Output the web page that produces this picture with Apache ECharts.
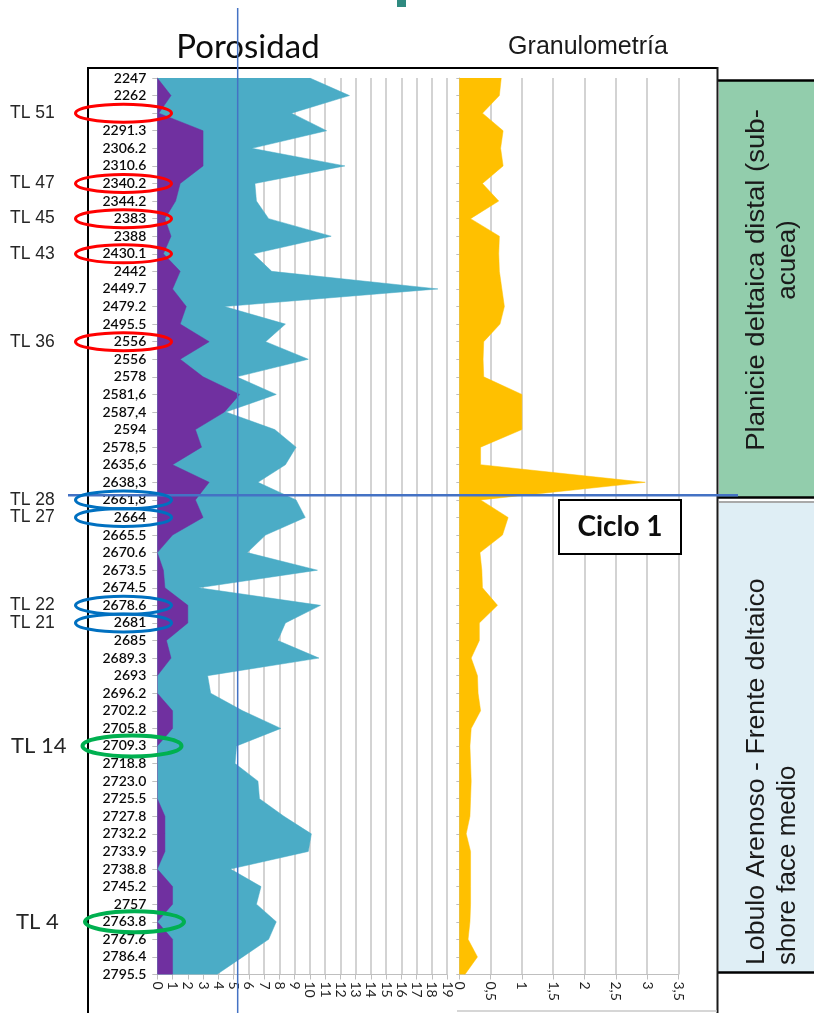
<!DOCTYPE html>
<html>
<head>
<meta charset="utf-8">
<script src="https://cdn.jsdelivr.net/npm/echarts@6/dist/echarts.min.js"></script>
<style>
  html, body { margin: 0; padding: 0; background: #ffffff; }
  #chart { width: 814px; height: 1013px; }
</style>
</head>
<body>
<div id="chart"></div>
<script>
// Sample depths, top to bottom
const depthLabels = [
  '2247', '2262', '', '2291.3', '2306.2', '2310.6', '2340.2', '2344.2', '2383', '2388',
  '2430.1', '2442', '2449.7', '2479.2', '2495.5', '2556', '2556', '2578', '2581,6', '2587,4',
  '2594', '2578,5', '2635,6', '2638,3', '2661,8', '2664', '2665.5', '2670.6', '2673.5', '2674.5',
  '2678.6', '2681', '2685', '2689.3', '2693', '2696.2', '2702.2', '2705.8', '2709.3', '2718.8',
  '2723.0', '2725.5', '2727.8', '2732.2', '2733.9', '2738.8', '2745.2', '2757', '2763.8', '2767.6',
  '2786.4', '2795.5'
];

// Porosity (%)
const porosityValues = [
  10.0, 12.6, 8.8, 11.1, 6.2, 12.3, 6.4, 6.5, 7.3, 11.4,
  6.3, 7.5, 18.4, 4.4, 8.4, 7.1, 9.9, 5.2, 7.8, 4.5,
  7.7, 9.1, 8.4, 6.6, 9.1, 9.7, 7.1, 5.9, 10.5, 2.7,
  10.7, 8.4, 7.9, 10.6, 3.3, 3.5, 5.6, 8.1, 5.2, 5.1,
  6.6, 6.7, 8.3, 10.1, 9.9, 4.8, 6.8, 6.5, 7.8, 7.3,
  5.6, 3.9
];

// Inner (purple) porosity band
const innerValues = [
  0, 0.9, 0.1, 3.0, 3.0, 3.0, 1.5, 1.2, 0.5, 0.9,
  0.4, 1.5, 1.0, 1.9, 1.5, 3.4, 1.5, 3.0, 5.4, 4.4,
  2.5, 2.9, 1.0, 3.4, 2.5, 3.0, 1.0, 0, 0.4, 0.5,
  2.0, 2.0, 0.6, 0.9, 0, 0, 1.0, 1.0, 0, 0,
  0, 0, 0.5, 0.5, 0.5, 0, 1.0, 1.0, 0, 1.0,
  1.0, 1.0
];

// Grain size
const grainValues = [
  0.67, 0.64, 0.37, 0.70, 0.66, 0.70, 0.37, 0.63, 0.18, 0.64,
  0.63, 0.64, 0.68, 0.72, 0.65, 0.39, 0.38, 0.39, 1.0, 1.0,
  1.0, 0.34, 0.34, 2.97, 0.34, 0.78, 0.69, 0.33, 0.36, 0.37,
  0.61, 0.32, 0.32, 0.19, 0.29, 0.30, 0.34, 0.19, 0.17, 0.18,
  0.19, 0.18, 0.17, 0.11, 0.18, 0.18, 0.18, 0.18, 0.17, 0.14,
  0.29, 0.09
];

// Axis ranges
const porosityRange = [0, 19];
const porosityStep = 1;
const grainRange = [0, 3.5];
const grainStep = 0.5;

// Porosity cut-off line
const porosityCutoff = 5.27;

// Labelled samples (row index into depthLabels)
const redSamples = [['TL 51', 2], ['TL 47', 6], ['TL 45', 8], ['TL 43', 10], ['TL 36', 15]];
const blueSamples = [['TL 28', 24], ['TL 27', 25], ['TL 22', 30], ['TL 21', 31]];
const greenSamples = [['TL 14', 38], ['TL 4', 48]];
// Boundary between the two facies (between rows 23 and 24)
const cycleBoundary = [23, 24, 0.73];

const facies = {
  upper: ['Planicie deltaica distal (sub-', 'acuea)'],
  lower: ['Lobulo Arenoso - Frente deltaico', 'shore face medio']
};

const AXIS_GRAY = '#bfbfbf';
const GRID_GRAY = '#c4c4c4';

const chart = echarts.init(document.getElementById('chart'), null, { renderer: 'canvas' });

const catAxisCommon = {
  type: 'category',
  data: depthLabels,
  inverse: true,
  boundaryGap: false,
  axisLine: { show: true, lineStyle: { color: AXIS_GRAY, width: 1 } },
  axisTick: { show: true, interval: 0, length: 5, lineStyle: { color: AXIS_GRAY } },
  splitLine: { show: false }
};

const option = {
  animation: false,
  backgroundColor: '#ffffff',
  grid: [
    { left: 157.3, top: 78, width: 289.8, height: 896.5, containLabel: false, outerBoundsMode: 'none' },
    { left: 459.3, top: 78, width: 219.1, height: 896.5, containLabel: false, outerBoundsMode: 'none' }
  ],
  xAxis: [
    {
      type: 'value', gridIndex: 0, position: 'bottom',
      min: porosityRange[0], max: porosityRange[1], interval: porosityStep,
      axisLine: { show: true, lineStyle: { color: AXIS_GRAY, width: 1 } },
      axisTick: { show: true, length: 5, lineStyle: { color: AXIS_GRAY } },
      splitLine: { show: true, lineStyle: { color: GRID_GRAY, width: 1.5 } },
      axisLabel: {
        rotate: -90, margin: 7, color: '#1f1f1f', fontSize: 14, fontFamily: 'Lato',
        showMinLabel: true, showMaxLabel: true
      }
    },
    {
      type: 'value', gridIndex: 1, position: 'bottom',
      min: grainRange[0], max: grainRange[1], interval: grainStep,
      axisLine: { show: true, lineStyle: { color: AXIS_GRAY, width: 1 } },
      axisTick: { show: true, length: 5, lineStyle: { color: AXIS_GRAY } },
      splitLine: { show: true, lineStyle: { color: GRID_GRAY, width: 1.5 } },
      axisLabel: {
        rotate: -90, margin: 7, color: '#1f1f1f', fontSize: 14, fontFamily: 'Lato',
        showMinLabel: true, showMaxLabel: true,
        formatter: v => String(v).replace('.', ',')
      }
    }
  ],
  yAxis: [
    Object.assign({}, catAxisCommon, {
      gridIndex: 0,
      axisLabel: {
        show: true, interval: 0, margin: 11, color: '#0a0a0a',
        fontSize: 14, fontFamily: 'Lato', fontWeight: 600
      }
    }),
    Object.assign({}, catAxisCommon, {
      gridIndex: 1,
      axisTick: { show: true, interval: 0, length: 3, lineStyle: { color: AXIS_GRAY } },
      axisLabel: { show: false }
    })
  ],
  series: [
    {
      name: 'Porosidad', type: 'line', xAxisIndex: 0, yAxisIndex: 0,
      data: porosityValues, symbol: 'none', smooth: false, z: 2,
      lineStyle: { width: 0.5, color: '#4BACC6' },
      areaStyle: { color: '#4BACC6', opacity: 1 }
    },
    {
      name: 'Interior', type: 'line', xAxisIndex: 0, yAxisIndex: 0,
      data: innerValues, symbol: 'none', smooth: false, z: 3,
      lineStyle: { width: 0.5, color: '#7030A0' },
      areaStyle: { color: '#7030A0', opacity: 1 }
    },
    {
      name: 'Granulometría', type: 'line', xAxisIndex: 1, yAxisIndex: 1,
      data: grainValues, symbol: 'none', smooth: false, z: 2,
      lineStyle: { width: 0.5, color: '#FFC000' },
      areaStyle: { color: '#FFC000', opacity: 1 }
    }
  ]
};

chart.setOption(option);

// Annotation layer, positioned from the axes
const rowY = i => chart.convertToPixel({ yAxisIndex: 0 }, i);
const porX = v => chart.convertToPixel({ xAxisIndex: 0 }, v);

const g = [];

// Frame
const frameStroke = { stroke: '#000000', lineWidth: 2 };
g.push({ type: 'line', shape: { x1: 87, y1: 68, x2: 718, y2: 68 }, style: frameStroke, z: 10 });
g.push({ type: 'line', shape: { x1: 88, y1: 67, x2: 88, y2: 1013 }, style: frameStroke, z: 10 });
g.push({ type: 'line', shape: { x1: 717.5, y1: 67, x2: 717.5, y2: 1013 }, style: { stroke: '#1a1a1a', lineWidth: 2 }, z: 10 });
g.push({ type: 'line', shape: { x1: 457, y1: 1011, x2: 717, y2: 1011 }, style: { stroke: '#c8c8c8', lineWidth: 1.5 }, z: 10 });

// Small teal mark at the top
g.push({ type: 'rect', shape: { x: 397, y: 0, width: 9, height: 7 }, style: { fill: '#2f8a80' }, z: 10 });

// Panel titles
g.push({
  type: 'text', x: 248, y: 47, z: 10,
  style: { text: 'Porosidad', font: '33px Lato', fill: '#0d0d0d', textAlign: 'center', textVerticalAlign: 'middle' }
});
g.push({
  type: 'text', x: 588, y: 47, z: 10,
  style: { text: 'Granulometría', font: '25px "Liberation Sans"', fill: '#1a1a1a', textAlign: 'center', textVerticalAlign: 'middle' }
});

// Facies boxes on the right
g.push({ type: 'rect', shape: { x: 719, y: 80, width: 100, height: 417 }, style: { fill: '#92CDAC' }, z: 5 });
g.push({ type: 'rect', shape: { x: 719, y: 502, width: 100, height: 470 }, style: { fill: '#DFEEF5' }, z: 5 });
g.push({ type: 'line', shape: { x1: 717, y1: 80.5, x2: 814, y2: 80.5 }, style: { stroke: '#000', lineWidth: 2.5 }, z: 6 });
g.push({ type: 'line', shape: { x1: 717, y1: 497.5, x2: 814, y2: 497.5 }, style: { stroke: '#000', lineWidth: 2.5 }, z: 6 });
g.push({ type: 'line', shape: { x1: 719, y1: 502, x2: 814, y2: 502 }, style: { stroke: '#a9a9a9', lineWidth: 2 }, z: 6 });
g.push({ type: 'line', shape: { x1: 717, y1: 972.5, x2: 814, y2: 972.5 }, style: { stroke: '#000', lineWidth: 2.5 }, z: 6 });

const faciesFont = '26px "Liberation Sans"';
const vText = (text, x, y, align, sx) => ({
  type: 'text', x: x, y: y, rotation: Math.PI / 2, scaleX: sx, z: 7,
  style: { text: text, font: faciesFont, fill: '#1a1a1a', textAlign: align, textVerticalAlign: 'middle' }
});
g.push(vText(facies.upper[0], 757, 280, 'center', 1.06));
g.push(vText(facies.upper[1], 788, 260, 'center', 1.0));
g.push(vText(facies.lower[0], 757, 965, 'left', 1.025));
g.push(vText(facies.lower[1], 788, 965, 'left', 1.0));

// Sample markers
const addSamples = (list, color, cx, rx, ry, lw, font, labelX) => {
  list.forEach(([name, row]) => {
    const y = rowY(row);
    g.push({ type: 'ellipse', shape: { cx: cx, cy: y, rx: rx, ry: ry }, style: { fill: null, stroke: color, lineWidth: lw }, z: 12 });
    g.push({
      type: 'text', x: labelX, y: y, z: 12,
      style: { text: name, font: font, fill: '#262626', textAlign: 'left', textVerticalAlign: 'middle' }
    });
  });
};
addSamples(redSamples, '#FF0000', 123.5, 48, 9, 3, '17.5px "Liberation Sans"', 10);
addSamples(blueSamples, '#0070C0', 123.5, 48, 9, 3, '17.5px "Liberation Sans"', 10);
addSamples(greenSamples.slice(0, 1), '#00B050', 132, 49.5, 10.5, 4, '22px Lato', 11);
addSamples(greenSamples.slice(1), '#00B050', 134.5, 49.5, 10.5, 4, '22px Lato', 16);

// Cut-off and cycle boundary lines
const cutX = porX(porosityCutoff);
g.push({ type: 'line', shape: { x1: cutX, y1: 8, x2: cutX, y2: 1013 }, style: { stroke: '#4472C4', lineWidth: 1.5 }, z: 11 });
const yA = rowY(cycleBoundary[0]);
const yB = rowY(cycleBoundary[1]);
const boundaryY = yA + (yB - yA) * cycleBoundary[2];
g.push({ type: 'line', shape: { x1: 68, y1: boundaryY, x2: 738, y2: boundaryY }, style: { stroke: '#4472C4', lineWidth: 2.5 }, z: 11 });

// Cycle label
g.push({ type: 'rect', shape: { x: 559, y: 500, width: 122, height: 54 }, style: { fill: '#ffffff', stroke: '#000000', lineWidth: 2 }, z: 13 });
g.push({
  type: 'text', x: 620, y: 527, z: 14,
  style: { text: 'Ciclo 1', font: 'bold 28px Lato', fill: '#0d0d0d', textAlign: 'center', textVerticalAlign: 'middle' }
});

chart.setOption({ graphic: { elements: g } });
</script>
</body>
</html>
